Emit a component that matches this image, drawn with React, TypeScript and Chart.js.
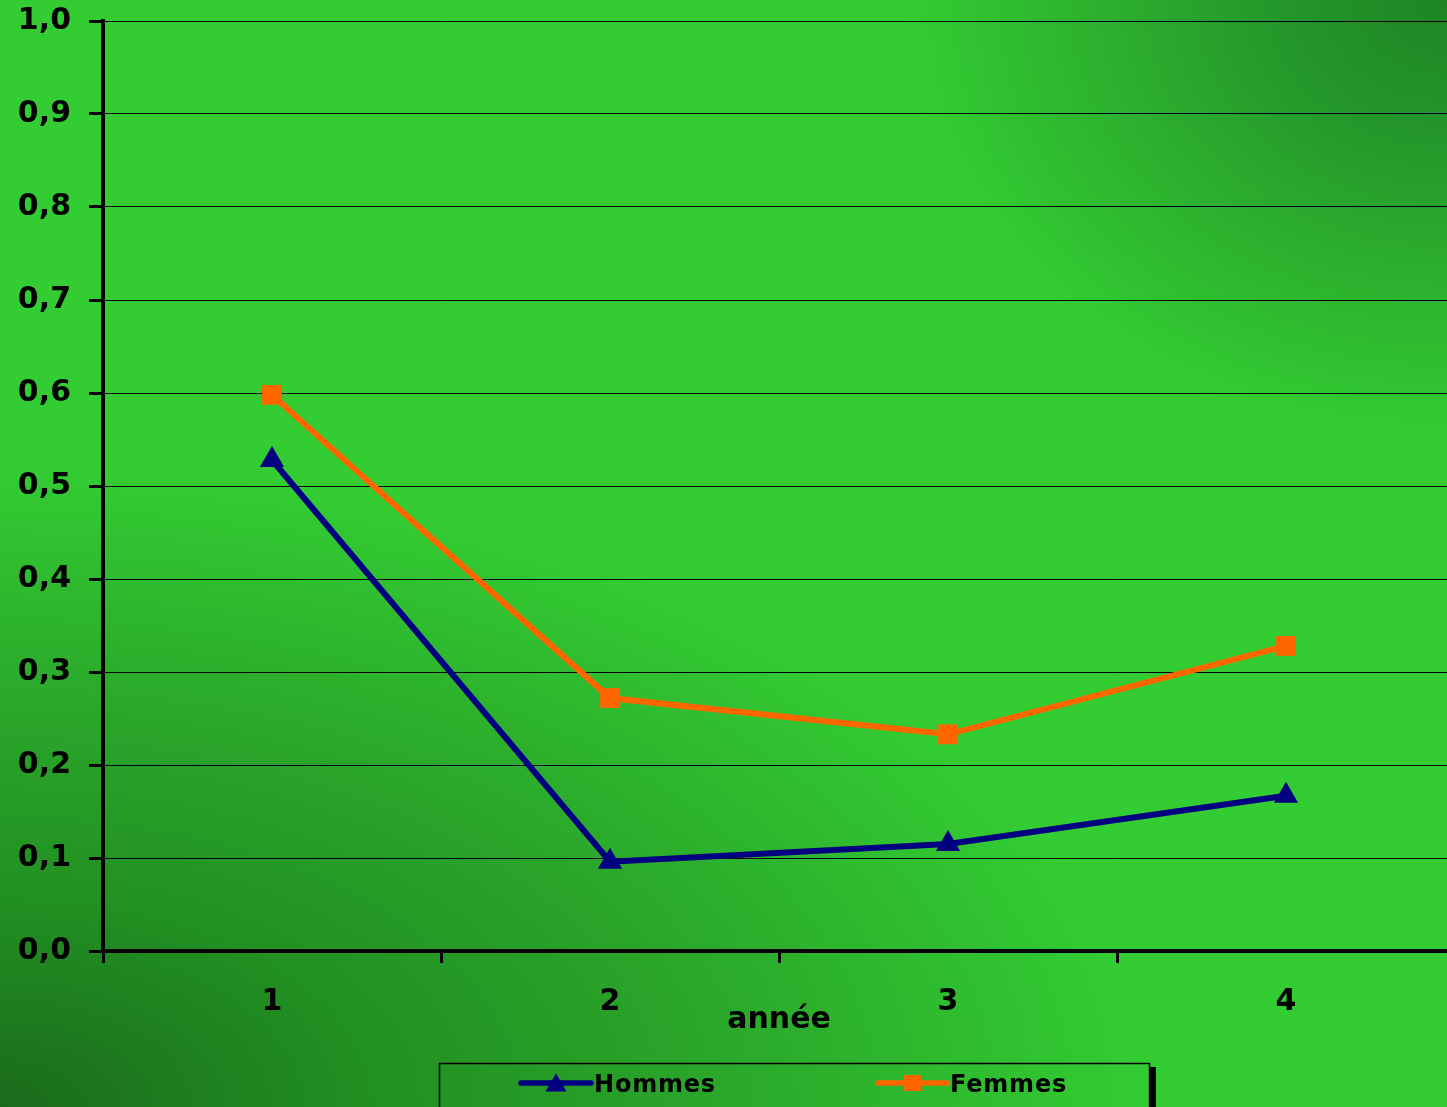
import React, { useEffect, useRef } from 'react';
import { Chart, registerables } from 'chart.js';

Chart.register(...registerables);

// ---- Data ----
const categories = ['1', '2', '3', '4'];
const hommes = [0.528, 0.096, 0.115, 0.167];
const femmes = [0.598, 0.272, 0.233, 0.328];
const yTickLabels = ['0,0', '0,1', '0,2', '0,3', '0,4', '0,5', '0,6', '0,7', '0,8', '0,9', '1,0'];
const seriesNames = ['Hommes', 'Femmes'];
const xAxisTitle = 'année';

// ---- Styles ----
const NAVY = '#000080';
const ORANGE = '#FF6600';
const FONT_FAMILY = '"DejaVu Sans", "Liberation Sans", Arial, sans-serif';
const W = 1469;
const H = 1107;

const legendGeom = [
  { x0: 521, x1: 591, tx: 594 },
  { x0: 878, x1: 947, tx: 950 },
];

function drawMarker(ctx: CanvasRenderingContext2D, style: string, x: number, y: number, color: string) {
  ctx.fillStyle = color;
  ctx.beginPath();
  if (style === 'triangle') {
    ctx.moveTo(x, y - 9.5);
    ctx.lineTo(x + 10.5, y + 8.5);
    ctx.lineTo(x - 10.5, y + 8.5);
    ctx.closePath();
  } else {
    ctx.rect(x - 8.5, y - 8, 17, 16);
  }
  ctx.fill();
}

const boxLegendPlugin = {
  id: 'boxLegend',
  afterDraw(chart: any) {
    const ctx: CanvasRenderingContext2D = chart.ctx;
    ctx.save();
    // shadow
    ctx.fillStyle = '#000';
    ctx.fillRect(1150, 1067, 6, 60);
    // frame
    ctx.strokeStyle = '#000';
    ctx.lineWidth = 1.5;
    ctx.strokeRect(439.5, 1063.5, 710, 50);
    const ly = 1083;
    chart.data.datasets.forEach((ds: any, i: number) => {
      const g = legendGeom[i];
      ctx.strokeStyle = ds.borderColor;
      ctx.lineWidth = 5.5;
      ctx.lineCap = 'round';
      ctx.beginPath();
      ctx.moveTo(g.x0, ly);
      ctx.lineTo(g.x1, ly);
      ctx.stroke();
      drawMarker(ctx, ds.pointStyle, (g.x0 + g.x1) / 2, ly, ds.borderColor);
      ctx.fillStyle = '#000';
      ctx.font = `bold 24px ${FONT_FAMILY}`;
      (ctx as any).letterSpacing = '0.8px';
      ctx.textAlign = 'left';
      ctx.textBaseline = 'alphabetic';
      ctx.fillText(ds.label, g.tx, 1092);
      (ctx as any).letterSpacing = '0px';
    });
    ctx.restore();
  },
};

export default function App() {
  const canvasRef = useRef<HTMLCanvasElement | null>(null);

  useEffect(() => {
    if (!canvasRef.current) return;
    const tickFont = { family: FONT_FAMILY, weight: 'bold' as const, size: 30 };
    const chart = new Chart(canvasRef.current, {
      type: 'line',
      data: {
        labels: categories,
        datasets: [
          {
            label: seriesNames[0],
            data: hommes,
            borderColor: NAVY,
            backgroundColor: NAVY,
            borderWidth: 6,
            pointStyle: 'triangle',
            pointRadius: 14,
            pointHoverRadius: 14,
            pointBorderWidth: 0,
            pointBackgroundColor: NAVY,
            tension: 0,
          },
          {
            label: seriesNames[1],
            data: femmes,
            borderColor: ORANGE,
            backgroundColor: ORANGE,
            borderWidth: 6,
            pointStyle: 'rect',
            pointRadius: 14,
            pointHoverRadius: 14,
            pointBorderWidth: 0,
            pointBackgroundColor: ORANGE,
            tension: 0,
          },
        ],
      },
      options: {
        animation: false,
        responsive: false,
        events: [],
        layout: { padding: { top: 21, left: 0, right: 0, bottom: 0 } },
        plugins: {
          legend: { display: false },
          tooltip: { enabled: false },
        },
        scales: {
          x: {
            type: 'category',
            offset: true,
            grid: {
              offset: true,
              drawOnChartArea: false,
              drawTicks: true,
              tickLength: 12,
              tickWidth: 3,
              tickColor: '#000',
              color: '#000',
            },
            border: { display: true, color: '#000', width: 4 },
            ticks: {
              color: '#000',
              font: tickFont,
              padding: 21,
              maxRotation: 0,
              autoSkip: false,
            },
            title: {
              display: true,
              text: xAxisTitle,
              color: '#000',
              font: tickFont,
              padding: { top: 0, bottom: 69 },
            },
            afterFit: (s: any) => {
              s.height = 156;
              s.paddingLeft = 0;
              s.paddingRight = 0;
            },
          },
          y: {
            min: 0,
            max: 1,
            ticks: {
              stepSize: 0.1,
              color: '#000',
              font: tickFont,
              padding: 18,
              callback: (v: any) => yTickLabels[Math.round(Number(v) * 10)],
            },
            grid: {
              color: '#000',
              lineWidth: 1,
              tickLength: 14,
              tickWidth: 3,
              tickColor: '#000',
            },
            border: { display: true, color: '#000', width: 4 },
            afterFit: (s: any) => {
              s.width = 103;
              s.paddingTop = 0;
              s.paddingBottom = 0;
            },
          },
        },
      },
      plugins: [boxLegendPlugin],
    });
    return () => chart.destroy();
  }, []);

  return (
    <div
      style={{
        position: 'fixed',
        left: 0,
        top: 0,
        width: 1447,
        height: H,
        overflow: 'hidden',
        background: [
          'radial-gradient(1150px 640px at 0% 100%, #1b6b1b 0%, #229022 33%, #2aa62a 62%, rgba(51,204,51,0) 100%)',
          'radial-gradient(540px 440px at 100% 0%, #1f8424 0%, #24962a 30%, #2cae2e 62%, rgba(51,204,51,0) 100%)',
          '#33cc33',
        ].join(', '),
      }}
    >
      <div style={{ position: 'absolute', left: 0, top: 0, width: W, height: H }}>
        <canvas ref={canvasRef} width={W} height={H} style={{ width: W, height: H, display: 'block' }} />
      </div>
    </div>
  );
}
